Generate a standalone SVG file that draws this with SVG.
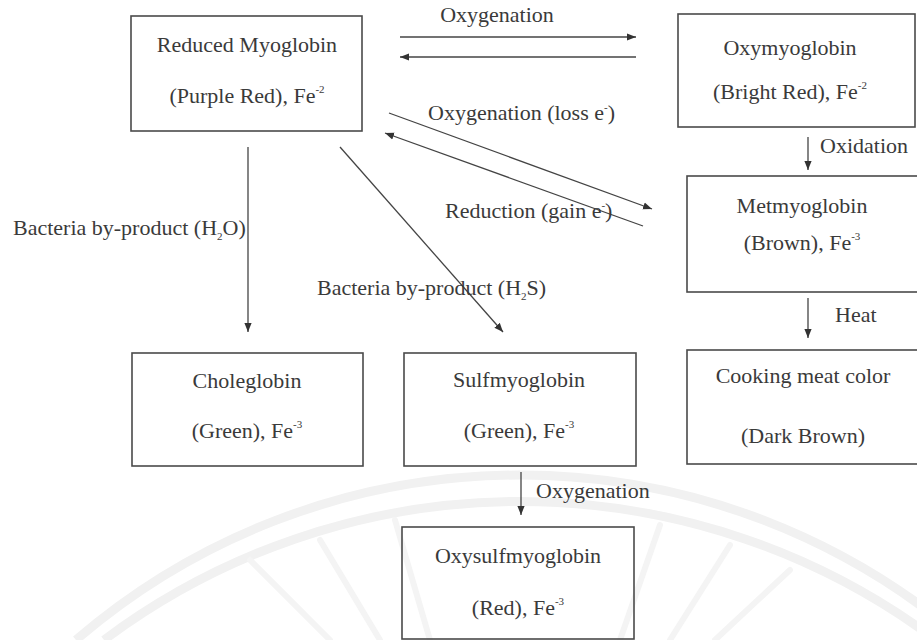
<svg xmlns="http://www.w3.org/2000/svg" width="917" height="640" viewBox="0 0 917 640" font-family="Liberation Serif, Times New Roman, serif">
<defs>
<style>
.box{fill:none;stroke:#4a4a4a;stroke-width:1.6}
.t{font-size:22px;fill:#3a3a3a}
.c{text-anchor:middle}
.sup{font-size:11px}
.ln{fill:none;stroke:#444;stroke-width:1.3}
.wm{fill:none;stroke:#f1f1f1;stroke-width:9}
.wr{fill:none;stroke:#f4f4f4;stroke-width:6;stroke-linecap:round}
</style>
<marker id="ah" viewBox="0 0 10 10" refX="10" refY="5" markerWidth="9" markerHeight="9" markerUnits="userSpaceOnUse" orient="auto">
<path d="M0,1 L10,5 L0,9 Z" fill="#333"/>
</marker>
</defs>
<rect width="917" height="640" fill="#ffffff"/>
<g id="watermark">
<path class="wm" d="M76,640 A680,680 0 0 1 964,640"/>
<path class="wm" d="M104,640 A694,694 0 0 1 936,640"/>
<path class="wr" d="M330,640 L250,560"/>
<path class="wr" d="M380,640 L320,540"/>
<path class="wr" d="M430,640 L395,520"/>
<path class="wr" d="M620,640 L660,525"/>
<path class="wr" d="M670,640 L730,545"/>
<path class="wr" d="M715,640 L790,570"/>
</g>
<g id="connectors">
<line class="ln" x1="400" y1="37" x2="636" y2="37" marker-end="url(#ah)"/>
<line class="ln" x1="636" y1="57" x2="400" y2="57" marker-end="url(#ah)"/>
<line class="ln" x1="389" y1="113" x2="652" y2="209" marker-end="url(#ah)"/>
<line class="ln" x1="643" y1="226" x2="385" y2="133" marker-end="url(#ah)"/>
<line class="ln" x1="248" y1="147" x2="248" y2="332" marker-end="url(#ah)"/>
<line class="ln" x1="340" y1="147" x2="503" y2="332" marker-end="url(#ah)"/>
<line class="ln" x1="808" y1="137" x2="808" y2="170" marker-end="url(#ah)"/>
<line class="ln" x1="808" y1="298" x2="808" y2="338" marker-end="url(#ah)"/>
<line class="ln" x1="521" y1="472" x2="521" y2="515" marker-end="url(#ah)"/>
<text class="t c" x="497" y="22">Oxygenation</text>
<text class="t" x="428" y="120">Oxygenation (loss e<tspan class="sup" dy="-9">-</tspan><tspan dy="9">)</tspan></text>
<text class="t" x="445" y="218">Reduction (gain e<tspan class="sup" dy="-9">-</tspan><tspan dy="9">)</tspan></text>
<text class="t" x="13" y="235">Bacteria by-product (H<tspan class="sup" dy="5">2</tspan><tspan dy="-5">O)</tspan></text>
<text class="t" x="317" y="295">Bacteria by-product (H<tspan class="sup" dy="5">2</tspan><tspan dy="-5">S)</tspan></text>
<text class="t" x="820" y="153">Oxidation</text>
<text class="t" x="835" y="322">Heat</text>
<text class="t" x="536" y="498">Oxygenation</text>
</g>
<g id="reduced-myoglobin">
<rect class="box" x="131" y="16" width="231" height="115"/>
<text class="t c" x="247" y="52">Reduced Myoglobin</text>
<text class="t c" x="247" y="103">(Purple Red), Fe<tspan class="sup" dy="-10">-2</tspan></text>
</g>
<g id="oxymyoglobin">
<rect class="box" x="678" y="14" width="237" height="113"/>
<text class="t c" x="790" y="55">Oxymyoglobin</text>
<text class="t c" x="790" y="99">(Bright Red), Fe<tspan class="sup" dy="-10">-2</tspan></text>
</g>
<g id="metmyoglobin">
<rect class="box" x="687" y="176" width="232" height="116"/>
<text class="t c" x="802" y="213">Metmyoglobin</text>
<text class="t c" x="802" y="250">(Brown), Fe<tspan class="sup" dy="-10">-3</tspan></text>
</g>
<g id="choleglobin">
<rect class="box" x="132" y="353" width="231" height="113"/>
<text class="t c" x="247" y="388">Choleglobin</text>
<text class="t c" x="247" y="438">(Green), Fe<tspan class="sup" dy="-10">-3</tspan></text>
</g>
<g id="sulfmyoglobin">
<rect class="box" x="404" y="353" width="232" height="113"/>
<text class="t c" x="519" y="387">Sulfmyoglobin</text>
<text class="t c" x="519" y="438">(Green), Fe<tspan class="sup" dy="-10">-3</tspan></text>
</g>
<g id="cooking-meat-color">
<rect class="box" x="687" y="350" width="232" height="114"/>
<text class="t c" x="803" y="383">Cooking meat color</text>
<text class="t c" x="803" y="443">(Dark Brown)</text>
</g>
<g id="oxysulfmyoglobin">
<rect class="box" x="402" y="527" width="232" height="112"/>
<text class="t c" x="518" y="563">Oxysulfmyoglobin</text>
<text class="t c" x="518" y="615">(Red), Fe<tspan class="sup" dy="-10">-3</tspan></text>
</g>
</svg>
